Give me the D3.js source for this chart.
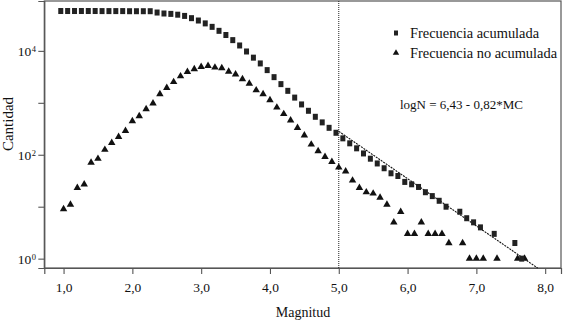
<!DOCTYPE html>
<html>
<head>
<meta charset="utf-8">
<script src="https://cdn.jsdelivr.net/npm/d3@7"></script>
<style>
  html, body { margin: 0; padding: 0; background: #fff; }
  svg { display: block; font-family: "Liberation Serif", "Times New Roman", serif; }
</style>
</head>
<body>
<svg id="chart" width="565" height="324"></svg>
<script>
// ---------------- data ----------------
const xTicks = [1, 2, 3, 4, 5, 6, 7, 8];
const yTicks = [1, 10, 100, 1000, 10000];
const yTickExp = ["0", "1", "2", "3", "4"];
const yLabeled = [1, 100, 10000];

// Frecuencia no acumulada (triangles)
const nonCumM = [1.0,1.1,1.2,1.3,1.4,1.5,1.6,1.7,1.8,1.9,
                 2.0,2.1,2.2,2.3,2.4,2.5,2.6,2.7,2.8,2.9,
                 3.0,3.1,3.2,3.3,3.4,3.5,3.6,3.7,3.8,3.9,
                 4.0,4.1,4.2,4.3,4.4,4.5,4.6,4.7,4.8,4.9,
                 5.0,5.1,5.2,5.3,5.4,5.5,5.6,5.7,5.8,5.9,
                 6.0,6.1,6.2,6.3,6.4,6.5,6.6,6.8,6.9,7.0,
                 7.1,7.3,7.6,7.7];
const nonCumN = [9,11,23,27,71,84,125,170,222,290,
                 445,555,757,975,1470,1950,2520,3250,3960,4450,
                 4930,5140,4800,4660,4000,3520,2860,2350,1750,1470,
                 1130,815,610,460,330,236,158,118,91,73,
                 57,48,32,23,19,18,15,11,5,8,
                 3,3,5,3,3,3,2,2,1,1,
                 1,1,1,1];

// Frecuencia acumulada (squares)
const cumM = [1.0,1.1,1.2,1.3,1.4,1.5,1.6,1.7,1.8,1.9,
              2.0,2.1,2.2,2.3,2.4,2.5,2.6,2.7,2.8,2.9,
              3.0,3.1,3.2,3.3,3.4,3.5,3.6,3.7,3.8,3.9,
              4.0,4.1,4.2,4.3,4.4,4.5,4.6,4.7,4.8,4.9,
              5.0,5.1,5.2,5.3,5.4,5.5,5.6,5.7,5.8,5.9,
              6.0,6.1,6.2,6.3,6.4,6.5,6.6,6.8,6.9,7.0,
              7.1,7.3,7.6,7.7];
const cumN = [58500,58500,58500,58500,58500,58500,58300,58300,58300,58300,
              58000,58000,58000,58000,54700,52400,51500,49700,47100,42600,
              38400,33800,29000,24300,20200,16100,12700,9730,7400,5730,
              4260,3120,2290,1700,1260,931,702,538,420,330,
              265,207,166,133,106,84,68,55,44,39,
              30,27,24,19,16,13,10,8,6,5,
              4,3,2,1];

// Fitted line (as drawn) and the completeness magnitude
const fitLineM = [5.0, 7.89];
const fitLineN = [282, 0.66];
const mcValue = 5.0;

const legendLabels = ["Frecuencia acumulada", "Frecuencia no acumulada"];
const equationText = "logN = 6,43 - 0,82*MC";
const xTitle = "Magnitud";
const yTitle = "Cantidad";

// ---------------- layout ----------------
const L = 44.3, R = 561, T = 1, B = 268;
const svg = d3.select("#chart");
const x = d3.scaleLinear().domain([0.72, 8.23]).range([L, R]);
const y = d3.scaleLog().domain([Math.pow(10, -0.18), Math.pow(10, 4.96)]).range([B, T]);
const ink = "#111";
const frame = "#555";

// frame
svg.append("rect").attr("x", L).attr("y", T).attr("width", R - L).attr("height", B - T)
  .attr("fill", "none").attr("stroke", frame).attr("stroke-width", 1.2);

// x axis
const xAxis = svg.append("g").attr("transform", `translate(0,${B})`)
  .call(d3.axisBottom(x).tickValues(xTicks).tickSize(6).tickPadding(8)
    .tickFormat(d => d.toFixed(1).replace(".", ",")));
xAxis.select(".domain").attr("stroke", frame).attr("stroke-width", 1.2);
xAxis.selectAll(".tick line").attr("stroke", frame).attr("stroke-width", 1.1);
xAxis.selectAll(".tick text").attr("fill", ink).style("font-size", "13.5px")
  .style("font-family", "Liberation Serif");

// y axis
const yAxis = svg.append("g").attr("transform", `translate(${L},0)`)
  .call(d3.axisLeft(y).tickValues(yTicks).tickSize(6).tickFormat(""));
yAxis.select(".domain").attr("stroke", frame).attr("stroke-width", 1.2);
yAxis.selectAll(".tick line").attr("stroke", frame).attr("stroke-width", 1.1);
yAxis.selectAll(".tick").each(function(d, i) {
  if (yLabeled.indexOf(d) < 0) return;
  const g = d3.select(this);
  const t = g.append("text").attr("x", -13).attr("y", 5).attr("text-anchor", "end")
    .attr("fill", ink).style("font-size", "13.5px").style("font-family", "Liberation Serif");
  t.append("tspan").text("10");
  g.append("text").attr("x", -12.5).attr("y", 1).attr("text-anchor", "start")
    .attr("fill", ink).style("font-size", "8.5px").style("font-family", "Liberation Serif")
    .text(yTickExp[i]);
});

// axis titles
svg.append("text").attr("x", 303).attr("y", 317).attr("text-anchor", "middle")
  .attr("fill", ink).style("font-size", "14px").text(xTitle);
svg.append("text").attr("transform", "translate(13,124) rotate(-90)").attr("text-anchor", "middle")
  .attr("fill", ink).style("font-size", "15px").text(yTitle);

// vertical Mc line
svg.append("line").attr("x1", x(mcValue)).attr("x2", x(mcValue)).attr("y1", T).attr("y2", B)
  .attr("stroke", "#222").attr("stroke-width", 1).attr("stroke-dasharray", "1,1");

// fit line
svg.append("line")
  .attr("x1", x(fitLineM[0])).attr("y1", y(fitLineN[0]))
  .attr("x2", x(fitLineM[1])).attr("y2", y(fitLineN[1]))
  .attr("stroke", "#111").attr("stroke-width", 1.1).attr("stroke-dasharray", "2,1");

// triangles
const tri = d3.symbol().type(d3.symbolTriangle).size(24);
svg.append("g").selectAll("path").data(nonCumM.map((m, i) => [m, nonCumN[i]]))
  .join("path").attr("d", tri)
  .attr("transform", d => `translate(${x(d[0])},${y(d[1])})`)
  .attr("fill", ink);

// squares (drawn slightly left of their magnitude, as in the reference)
const sqW = 5, sqH = 6, sqShift = -2.8;
svg.append("g").selectAll("rect").data(cumM.map((m, i) => [m, cumN[i]]))
  .join("rect")
  .attr("x", d => x(d[0]) + sqShift - sqW / 2)
  .attr("y", d => y(d[1]) - sqH / 2)
  .attr("width", sqW).attr("height", sqH)
  .attr("fill", "#222");

// legend
const lg = svg.append("g");
lg.append("rect").attr("x", 394).attr("y", 30.5).attr("width", 4).attr("height", 5).attr("fill", "#222");
lg.append("path").attr("d", d3.symbol().type(d3.symbolTriangle).size(18))
  .attr("transform", "translate(396,53)").attr("fill", ink);
lg.append("text").attr("x", 410).attr("y", 38).attr("fill", ink).style("font-size", "14.4px").text(legendLabels[0]);
lg.append("text").attr("x", 410).attr("y", 58).attr("fill", ink).style("font-size", "14.4px").text(legendLabels[1]);

// equation
svg.append("text").attr("x", 400).attr("y", 109).attr("fill", ink).style("font-size", "13px").text(equationText);
</script>
</body>
</html>
